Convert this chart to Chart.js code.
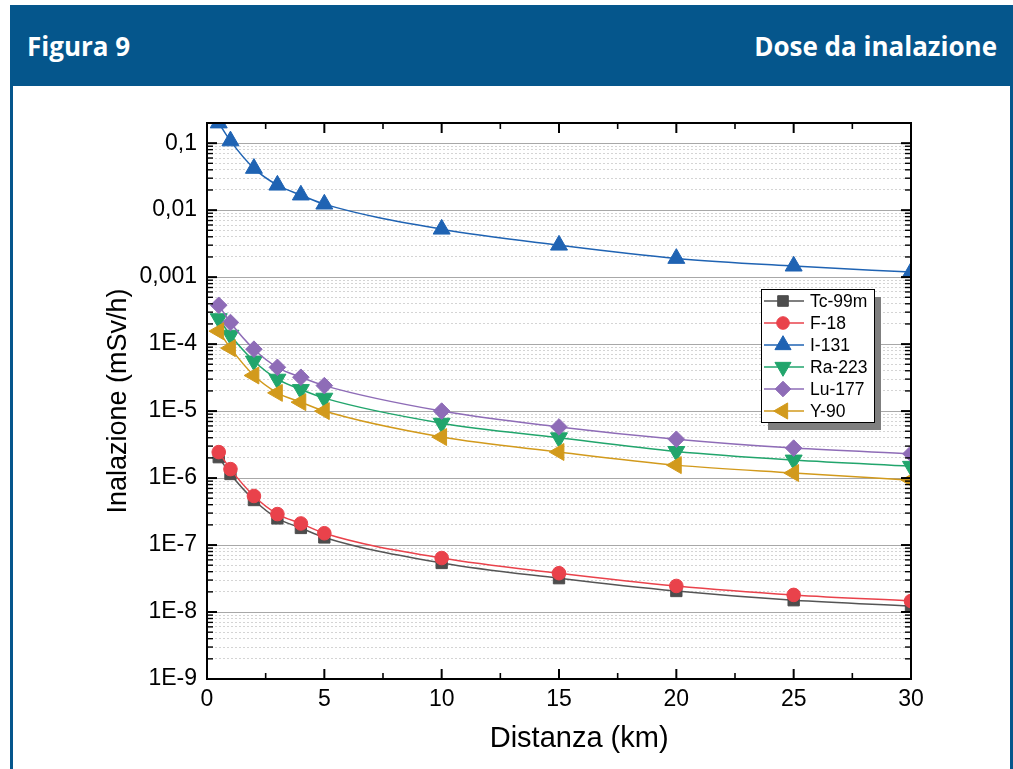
<!DOCTYPE html>
<html>
<head>
<meta charset="utf-8">
<script src="https://cdn.jsdelivr.net/npm/chart.js@4.4.0/dist/chart.umd.min.js"></script>
<style>
html,body{margin:0;padding:0;background:#fff;width:1013px;height:769px;overflow:hidden;}
#frame{position:absolute;left:10px;top:5px;width:1003px;height:800px;background:#05568c;}
#inner{position:absolute;left:13px;top:86px;width:997px;height:720px;background:#fff;}
.hd{position:absolute;top:33px;font-family:"Open Sans",sans-serif;font-weight:700;font-size:26px;line-height:26px;color:#fff;white-space:nowrap;}
#hl{left:27px;}
#hr{right:16px;}
#box{position:absolute;left:13px;top:86px;width:997px;height:683px;}
</style>
</head>
<body>
<div id="frame"></div>
<div id="inner"></div>
<div class="hd" id="hl">Figura 9</div>
<div class="hd" id="hr">Dose da inalazione</div>
<div id="box"><canvas id="c"></canvas></div>
<script>
// ---- data ----
const distances = [0.5, 1, 2, 3, 4, 5, 10, 15, 20, 25, 30];
const tc99m = [2.05e-6, 1.15e-6, 4.7e-7, 2.5e-7, 1.8e-7, 1.3e-7, 5.4e-8, 3.2e-8, 2.06e-8, 1.5e-8, 1.23e-8];
const f18   = [2.44e-6, 1.36e-6, 5.4e-7, 2.9e-7, 2.1e-7, 1.5e-7, 6.4e-8, 3.8e-8, 2.45e-8, 1.8e-8, 1.46e-8];
const i131  = [0.2, 0.108, 0.042, 0.0236, 0.0168, 0.0123, 0.0052, 0.003, 0.0019, 0.00146, 0.00119];
const ra223 = [2.4e-4, 1.36e-4, 5.6e-5, 3.0e-5, 2.1e-5, 1.56e-5, 6.6e-6, 4.0e-6, 2.5e-6, 1.86e-6, 1.5e-6];
const lu177 = [3.8e-4, 2.1e-4, 8.4e-5, 4.5e-5, 3.2e-5, 2.4e-5, 1.0e-5, 5.8e-6, 3.8e-6, 2.8e-6, 2.3e-6];
const y90   = [1.56e-4, 8.7e-5, 3.4e-5, 1.87e-5, 1.36e-5, 1.0e-5, 4.1e-6, 2.45e-6, 1.56e-6, 1.19e-6, 9.3e-7];
const seriesNames = ['Tc-99m', 'F-18', 'I-131', 'Ra-223', 'Lu-177', 'Y-90'];
const yTickValues = [1e-9, 1e-8, 1e-7, 1e-6, 1e-5, 1e-4, 1e-3, 1e-2, 1e-1];
const yTickLabels = ['1E-9', '1E-8', '1E-7', '1E-6', '1E-5', '1E-4', '0,001', '0,01', '0,1'];
const xTickValues = [0, 5, 10, 15, 20, 25, 30];
const xTitle = '     Distanza (km)';
const yTitle = 'Inalazione (mSv/h)';
const yMin = 1e-9, yMax = 0.2;

// ---- styles ----
const styles = [
  {color:'#4d4d4d', line:'#555555', shape:'rect', rot:0, r:8},
  {color:'#e9424b', line:'#e9424b', shape:'circle', rot:0, r:6.8},
  {color:'#1f63b3', line:'#1f63b3', shape:'triangle', rot:0, r:9.8},
  {color:'#21a56c', line:'#21a56c', shape:'triangle', rot:180, r:9.8},
  {color:'#8e6cb7', line:'#8e6cb7', shape:'rectRot', rot:0, r:8.3},
  {color:'#d29a1c', line:'#d29a1c', shape:'triangle', rot:-90, r:9.8}
];
const allSeries = [tc99m, f18, i131, ra223, lu177, y90];

function isDecade(v){ const l = Math.log10(v); return Math.abs(l - Math.round(l)) < 1e-6; }
function sameVal(a,b){ return Math.abs(a-b) <= Math.abs(b)*1e-6; }

const yGridValues = [];
for (let e = Math.round(Math.log10(yMin)); e <= Math.floor(Math.log10(yMax)); e++) {
  for (let k = 1; k <= 9; k++) { const v = k * Math.pow(10, e); if (v <= yMax * (1+1e-9)) yGridValues.push(v); }
}

const datasets = seriesNames.map((name, i) => ({
  label: name,
  data: distances.map((d, j) => ({x: d, y: allSeries[i][j]})),
  borderColor: styles[i].line,
  backgroundColor: styles[i].color,
  pointBackgroundColor: styles[i].color,
  pointBorderColor: styles[i].color,
  pointBorderWidth: 1,
  pointStyle: styles[i].shape,
  pointRotation: styles[i].rot,
  pointRadius: styles[i].r,
  borderWidth: 1.5,
  cubicInterpolationMode: 'monotone',
  clip: 0,
  order: seriesNames.length - i
}));

function line(ctx, x1, y1, x2, y2){ ctx.beginPath(); ctx.moveTo(x1,y1); ctx.lineTo(x2,y2); ctx.stroke(); }

const framePlugin = {
  id: 'frameTicks',
  afterDatasetsDraw(chart){
    const {ctx, chartArea: a, scales: {x, y}} = chart;
    ctx.save();
    ctx.strokeStyle = '#000';
    y.ticks.forEach(t => {
      const p = y.getPixelForValue(t.value);
      const major = isDecade(t.value);
      ctx.lineWidth = major ? 2 : 1.4;
      const L = major ? 10 : 6;
      line(ctx, a.left, p, a.left + L, p);
      line(ctx, a.right, p, a.right - L, p);
    });
    const xt = x.ticks.map(t => t.value);
    xt.forEach((v, i) => {
      const p = x.getPixelForValue(v);
      ctx.lineWidth = 2;
      line(ctx, p, a.bottom, p, a.bottom - 10);
      line(ctx, p, a.top, p, a.top + 10);
      if (i < xt.length - 1) {
        const m = x.getPixelForValue((v + xt[i+1]) / 2);
        ctx.lineWidth = 1.6;
        line(ctx, m, a.bottom, m, a.bottom - 6);
        line(ctx, m, a.top, m, a.top + 6);
      }
    });
    ctx.lineWidth = 2;
    ctx.strokeRect(a.left, a.top, a.right - a.left, a.bottom - a.top);
    ctx.restore();
  },
  afterDraw(chart){
    const ctx = chart.ctx;
    const bx = 748, by = 203, bw = 113, bh = 133;
    ctx.save();
    ctx.fillStyle = '#7f7f7f';
    ctx.fillRect(bx + 7, by + 8, bw, bh);
    ctx.fillStyle = '#fff';
    ctx.fillRect(bx, by, bw, bh);
    ctx.strokeStyle = '#000'; ctx.lineWidth = 1;
    ctx.strokeRect(bx + 0.5, by + 0.5, bw, bh);
    chart.data.datasets.forEach((ds, i) => {
      const cy = by + 12 + i * 22;
      ctx.strokeStyle = ds.borderColor; ctx.lineWidth = 1.5;
      line(ctx, bx + 3, cy, bx + 43, cy);
      ctx.fillStyle = ds.pointBackgroundColor; ctx.strokeStyle = ds.pointBorderColor; ctx.lineWidth = 1;
      Chart.helpers.drawPoint(ctx, {pointStyle: ds.pointStyle, rotation: ds.pointRotation, radius: ds.pointRadius - 0.5, borderWidth: 1}, bx + 22, cy);
      ctx.fillStyle = '#000';
      ctx.font = '17.5px "Liberation Sans", Arial, sans-serif';
      ctx.textBaseline = 'middle';
      ctx.fillText(ds.label, bx + 49, cy + 1);
    });
    ctx.restore();
  }
};

const fam = '"Liberation Sans", Arial, sans-serif';
new Chart(document.getElementById('c'), {
  type: 'line',
  data: { datasets },
  options: {
    responsive: true,
    maintainAspectRatio: false,
    animation: false,
    events: [],
    layout: { padding: { left: 0, top: 37, right: 99, bottom: 0 } },
    plugins: { legend: { display: false }, tooltip: { enabled: false }, title: { display: false } },
    scales: {
      x: {
        type: 'linear', min: 0, max: 30,
        afterFit(s){ s.height = 90; },
        afterBuildTicks(s){ s.ticks = xTickValues.map(v => ({value: v})); },
        grid: { display: false, drawTicks: false },
        border: { display: false },
        ticks: { color: '#000', padding: 7, font: { family: fam, size: 23 }, maxRotation: 0 },
        title: { display: true, text: xTitle, color: '#000', font: { family: fam, size: 29 }, padding: { top: 0, bottom: 13 } }
      },
      y: {
        type: 'logarithmic', min: yMin, max: yMax,
        afterFit(s){ s.width = 194; },
        afterBuildTicks(s){ s.ticks = yGridValues.map(v => ({value: v})); },
        grid: {
          drawTicks: false,
          lineWidth: 1,
          color: c => (c.tick && isDecade(c.tick.value)) ? '#a8a8a8' : '#d4d4d4'
        },
        border: { display: false, dash: c => (c.tick && !isDecade(c.tick.value)) ? [2, 2] : [] },
        ticks: {
          autoSkip: false, color: '#000', padding: 10,
          font: { family: fam, size: 23 },
          callback: v => { const i = yTickValues.findIndex(t => sameVal(v, t)); return i >= 0 ? yTickLabels[i] : ''; }
        },
        title: { display: true, text: yTitle, color: '#000', font: { family: fam, size: 27 }, padding: { top: 89, bottom: 0 } }
      }
    }
  },
  plugins: [framePlugin]
});
</script>
</body>
</html>
